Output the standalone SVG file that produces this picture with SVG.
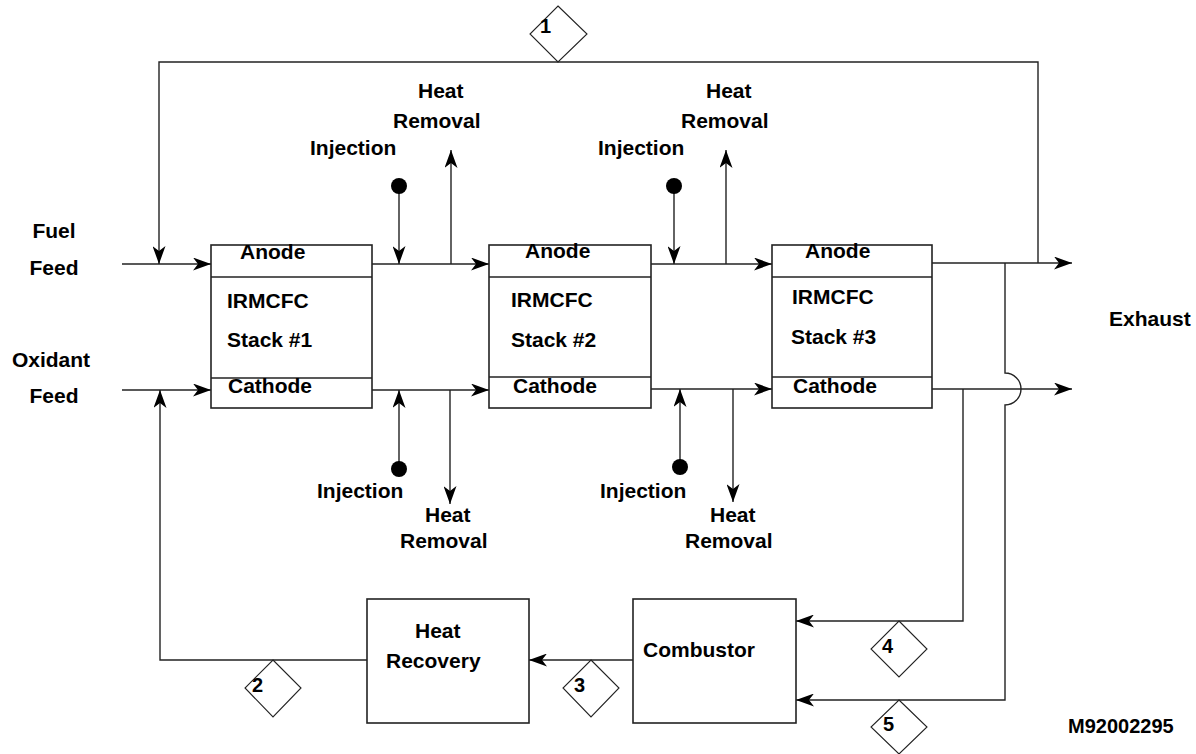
<svg xmlns="http://www.w3.org/2000/svg" width="1196" height="754" viewBox="0 0 1196 754">
<style>
.ln{fill:none;stroke:#222;stroke-width:1.4}
.bx{fill:#fff;stroke:#222;stroke-width:1.6}
.dm{fill:#fff;stroke:#222;stroke-width:1.1}
.t{font-family:"Liberation Sans",Arial,Helvetica,sans-serif;font-weight:bold;font-size:21px;fill:#000}
.n{font-family:"Liberation Sans",Arial,Helvetica,sans-serif;font-weight:bold;font-size:20px;fill:#000}
.dot{fill:#000}
</style>
<defs>
<marker id="ah" viewBox="0 0 18 13" refX="18" refY="6.5" markerWidth="18" markerHeight="13" markerUnits="userSpaceOnUse" orient="auto">
<path d="M0,0 L18,6.5 L0,13 L5,6.5 z" fill="#000"/>
</marker>
</defs>
<rect width="1196" height="754" fill="#fff"/>

<g id="connectors">
<path class="ln" d="M122,264 H211" marker-end="url(#ah)"/>
<path class="ln" d="M1038,263 V62 H159 V264" marker-end="url(#ah)"/>
<path class="ln" d="M372,264 H489" marker-end="url(#ah)"/>
<path class="ln" d="M399,186 V264" marker-end="url(#ah)"/>
<path class="ln" d="M451,264 V150" marker-end="url(#ah)"/>
<path class="ln" d="M651,264 H772" marker-end="url(#ah)"/>
<path class="ln" d="M674,186 V264" marker-end="url(#ah)"/>
<path class="ln" d="M726,264 V150" marker-end="url(#ah)"/>
<path class="ln" d="M932,263 H1072" marker-end="url(#ah)"/>
<path class="ln" d="M122,390 H211" marker-end="url(#ah)"/>
<path class="ln" d="M367,660 H160 V390" marker-end="url(#ah)"/>
<path class="ln" d="M372,390 H489" marker-end="url(#ah)"/>
<path class="ln" d="M399,469 V390" marker-end="url(#ah)"/>
<path class="ln" d="M450,390 V504" marker-end="url(#ah)"/>
<path class="ln" d="M651,389 H772" marker-end="url(#ah)"/>
<path class="ln" d="M680,467 V389" marker-end="url(#ah)"/>
<path class="ln" d="M733,389 V502" marker-end="url(#ah)"/>
<path class="ln" d="M932,389 H1072" marker-end="url(#ah)"/>
<path class="ln" d="M963,389 V621 H796" marker-end="url(#ah)"/>
<path class="ln" d="M1005,263 V373 A16,16 0 0 1 1005,405 V700 H796" marker-end="url(#ah)"/>
<path class="ln" d="M636,660 H529" marker-end="url(#ah)"/>
<circle class="dot" cx="399" cy="186" r="8"/>
<circle class="dot" cx="674" cy="186" r="8"/>
<circle class="dot" cx="399" cy="469" r="8"/>
<circle class="dot" cx="680" cy="467" r="8"/>
</g>

<g id="stack1">
<rect class="bx" x="211" y="245" width="161" height="163"/>
<line class="ln" x1="211" y1="277" x2="372" y2="277"/>
<line class="ln" x1="211" y1="378" x2="372" y2="378"/>
<text class="t" x="240" y="259">Anode</text>
<text class="t" x="227" y="308">IRMCFC</text>
<text class="t" x="227" y="347">Stack #1</text>
<text class="t" x="228" y="393">Cathode</text>
</g>

<g id="stack2">
<rect class="bx" x="489" y="245" width="162" height="163"/>
<line class="ln" x1="489" y1="277" x2="651" y2="277"/>
<line class="ln" x1="489" y1="377" x2="651" y2="377"/>
<text class="t" x="525" y="258">Anode</text>
<text class="t" x="511" y="307">IRMCFC</text>
<text class="t" x="511" y="347">Stack #2</text>
<text class="t" x="513" y="393">Cathode</text>
</g>

<g id="stack3">
<rect class="bx" x="772" y="245" width="160" height="163"/>
<line class="ln" x1="772" y1="277" x2="932" y2="277"/>
<line class="ln" x1="772" y1="377" x2="932" y2="377"/>
<text class="t" x="805" y="258">Anode</text>
<text class="t" x="792" y="304">IRMCFC</text>
<text class="t" x="791" y="344">Stack #3</text>
<text class="t" x="793" y="393">Cathode</text>
</g>

<g id="heat-recovery">
<rect class="bx" x="367" y="599" width="162" height="124"/>
<text class="t" x="415" y="638">Heat</text>
<text class="t" x="386" y="668">Recovery</text>
</g>

<g id="combustor">
<rect class="bx" x="633" y="599" width="163" height="124"/>
<text class="t" x="643" y="657">Combustor</text>
</g>

<g id="stream1">
<polygon class="dm" points="558,6 587,34 558,62 530,34"/>
<text class="n" x="540" y="33">1</text>
</g>
<g id="stream2">
<polygon class="dm" points="273,660 301,688 273,717 245,688"/>
<text class="n" x="252" y="692">2</text>
</g>
<g id="stream3">
<polygon class="dm" points="591,660 619,688 591,717 563,688"/>
<text class="n" x="574" y="692">3</text>
</g>
<g id="stream4">
<polygon class="dm" points="899,621 927,649 899,677 871,649"/>
<text class="n" x="882" y="653">4</text>
</g>
<g id="stream5">
<polygon class="dm" points="899,700 927,727 899,754 871,727"/>
<text class="n" x="883" y="731">5</text>
</g>

<g id="labels">
<text class="t" x="54" y="238" text-anchor="middle">Fuel</text>
<text class="t" x="54" y="275" text-anchor="middle">Feed</text>
<text class="t" x="51" y="367" text-anchor="middle">Oxidant</text>
<text class="t" x="54" y="403" text-anchor="middle">Feed</text>
<text class="t" x="1109" y="326">Exhaust</text>
<text class="t" x="310" y="155">Injection</text>
<text class="t" x="418" y="98">Heat</text>
<text class="t" x="393" y="128">Removal</text>
<text class="t" x="598" y="155">Injection</text>
<text class="t" x="706" y="98">Heat</text>
<text class="t" x="681" y="128">Removal</text>
<text class="t" x="317" y="498">Injection</text>
<text class="t" x="425" y="522">Heat</text>
<text class="t" x="400" y="548">Removal</text>
<text class="t" x="600" y="498">Injection</text>
<text class="t" x="710" y="522">Heat</text>
<text class="t" x="685" y="548">Removal</text>
<text class="n" x="1068" y="733">M92002295</text>
</g>
</svg>
